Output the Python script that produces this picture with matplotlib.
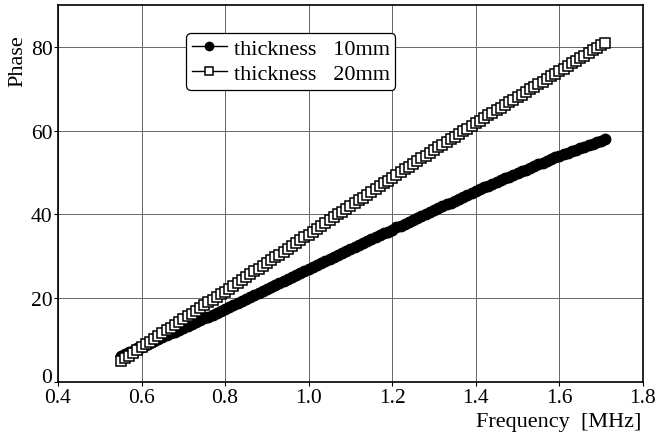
import matplotlib.pyplot as plt
import matplotlib.transforms as mtransforms
import numpy as np

plt.rcParams['font.family'] = ['Liberation Serif', 'DejaVu Serif']

# frequency axis (MHz), 0.55 .. 1.71 step 0.01
freq = np.round(np.linspace(0.55, 1.71, 117), 2)

# phase, thickness 10mm
phase_10 = [6.2, 6.6, 7.1, 7.5, 8.0,
            8.4, 8.9, 9.3, 9.8, 10.2, 10.7, 11.1, 11.6, 12.0, 12.5,
            12.9, 13.4, 13.8, 14.3, 14.7, 15.2, 15.6, 16.1, 16.5, 17.0,
            17.4, 17.9, 18.4, 18.8, 19.3, 19.8, 20.3, 20.8, 21.2, 21.7,
            22.2, 22.7, 23.2, 23.6, 24.1, 24.6, 25.1, 25.6, 26.0, 26.5,
            27.0, 27.5, 28.0, 28.4, 28.9, 29.4, 29.9, 30.4, 30.8, 31.3,
            31.8, 32.3, 32.7, 33.2, 33.6, 34.1, 34.6, 35.0, 35.5, 35.9,
            36.4, 36.9, 37.3, 37.8, 38.2, 38.7, 39.2, 39.6, 40.1, 40.5,
            41.0, 41.5, 41.9, 42.4, 42.8, 43.3, 43.8, 44.2, 44.7, 45.1,
            45.6, 46.0, 46.5, 46.9, 47.3, 47.8, 48.2, 48.6, 49.0, 49.5,
            49.9, 50.3, 50.7, 51.1, 51.5, 52.0, 52.4, 52.8, 53.2, 53.6,
            54.0, 54.4, 54.7, 55.1, 55.4, 55.8, 56.1, 56.5, 56.8, 57.2,
            57.5, 57.9]

# phase, thickness 20mm
phase_20 = [5.0, 5.7, 6.3, 7.0, 7.6,
            8.3, 9.0, 9.6, 10.3, 11.0, 11.6, 12.3, 13.0, 13.6, 14.3,
            15.0, 15.7, 16.3, 17.0, 17.6, 18.3, 19.0, 19.6, 20.3, 20.9,
            21.6, 22.3, 23.0, 23.6, 24.3, 25.0, 25.7, 26.4, 27.0, 27.7,
            28.4, 29.1, 29.8, 30.4, 31.1, 31.8, 32.5, 33.2, 33.8, 34.5,
            35.2, 35.9, 36.6, 37.2, 37.9, 38.6, 39.3, 40.0, 40.6, 41.3,
            42.0, 42.7, 43.4, 44.0, 44.7, 45.4, 46.1, 46.8, 47.4, 48.1,
            48.8, 49.5, 50.1, 50.8, 51.4, 52.1, 52.7, 53.4, 54.0, 54.7,
            55.3, 56.0, 56.6, 57.3, 57.9, 58.6, 59.2, 59.9, 60.5, 61.2,
            61.8, 62.4, 63.0, 63.7, 64.3, 64.9, 65.5, 66.1, 66.8, 67.4,
            68.0, 68.6, 69.2, 69.9, 70.5, 71.1, 71.7, 72.3, 73.0, 73.6,
            74.2, 74.8, 75.4, 76.1, 76.7, 77.3, 77.9, 78.5, 79.2, 79.8,
            80.4, 81.0]

xticks = [0.4, 0.6, 0.8, 1.0, 1.2, 1.4, 1.6, 1.8]
yticks = [0, 20, 40, 60, 80]

fig = plt.figure(figsize=(6.56, 4.39), dpi=100)
ax = fig.add_axes([0.0884, 0.1276, 0.8916, 0.8587])

ax.plot(freq, phase_10, color='black', lw=1, marker='o', ms=7.5,
        mfc='black', mec='black', label='thickness   10mm')
ax.plot(freq, phase_20, color='black', lw=1, marker='s', ms=6.5,
        mfc='white', mec='black', mew=1.1, label='thickness   20mm')

ax.set_xlim(0.4, 1.8)
ax.set_ylim(0, 90)
ax.set_xticks(xticks)
ax.set_xticklabels(['%.1f' % v for v in xticks])
ax.set_yticks(yticks)
ax.tick_params(labelsize=15.5, length=3, width=0.8, direction='out', pad=1)
ax.grid(True, color='#666666', lw=0.7)
for s in ax.spines.values():
    s.set_linewidth(1.2)

# the "0" sits a little above the axis in the original
lab0 = ax.get_yticklabels()[0]
lab0.set_transform(lab0.get_transform() +
                   mtransforms.ScaledTranslation(0, 5 / 72, fig.dpi_scale_trans))

# labels placed as in the original: y label near the top, x label bottom right
fig.text(0.027, 0.86, 'Phase', fontsize=16, rotation=90, ha='center', va='center')
fig.text(0.977, 0.015, 'Frequency  [MHz]', fontsize=16, ha='right', va='bottom')

leg = ax.legend(loc='upper left', bbox_to_anchor=(0.2, 0.955), fontsize=16,
                handlelength=1.6, handletextpad=0.3, borderpad=0.25,
                labelspacing=0.2, framealpha=1, edgecolor='black', fancybox=True,
                markerscale=0.8)
leg.get_frame().set_linewidth(0.9)

fig.savefig('out.png', dpi=100)
